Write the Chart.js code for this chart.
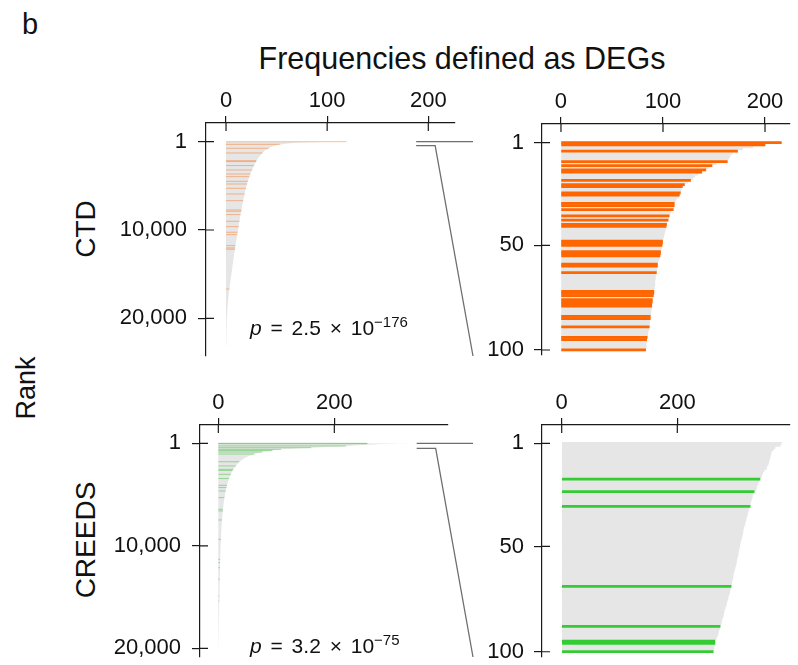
<!DOCTYPE html>
<html lang="en">
<head>
<meta charset="UTF-8">
<title>Frequencies defined as DEGs</title>
<style>
body { margin: 0; background: #fff; font-family: "Liberation Sans", Arial, Helvetica, sans-serif; color: #111; }
#page { position: relative; width: 798px; height: 665px; overflow: hidden; }
canvas { position: absolute; }
.lbl { position: absolute; white-space: nowrap; line-height: 1; }
.rot { transform: translate(-50%, -50%) rotate(-90deg); }
.pval { position: absolute; font-size: 21px; line-height: 1; white-space: nowrap; word-spacing: 3px; }
.pval sup { font-size: 15px; word-spacing: 0; }
</style>
<script src="https://cdn.jsdelivr.net/npm/chart.js"></script>
</head>
<body>
<div id="page">
    <div class="lbl" style="left:22px; top:10px; font-size:29px;">b</div>
    <div class="lbl" style="left:462px; top:43px; font-size:30.5px; transform:translateX(-50%);">Frequencies defined as DEGs</div>
    <div class="lbl rot" style="left:26px; top:388px; font-size:27px;">Rank</div>
    <div class="lbl rot" style="left:86px; top:229px; font-size:28px;">CTD</div>
    <div class="lbl rot" style="left:86px; top:540px; font-size:28px;">CREEDS</div>

    <canvas id="ctdAll" width="395" height="285" style="left:90px; top:80px;"></canvas>
    <canvas id="ctdTop" width="318" height="285" style="left:480px; top:80px;"></canvas>
    <canvas id="creedsAll" width="395" height="280" style="left:90px; top:385px;"></canvas>
    <canvas id="creedsTop" width="318" height="280" style="left:480px; top:385px;"></canvas>

    <div class="pval" style="left:250px; top:314px;"><i>p</i> = 2.5 × 10<sup>−176</sup></div>
    <div class="pval" style="left:250px; top:632px;"><i>p</i> = 3.2 × 10<sup>−75</sup></div>
</div>

<script>
    // ---- CTD: all genes (outline of the grey area) ----
    const ctdCurveRank = [1, 40, 100, 200, 350, 500, 700, 1000, 1400, 2000, 2900, 4000, 5200, 6700, 8600, 10500, 12300, 14200, 16100, 18000, 19900, 21500, 23100];
    const ctdCurveFreq = [119, 95, 75, 62, 52, 47, 43, 38.5, 35, 31, 27, 23, 19.8, 17, 13.8, 11.2, 8.6, 6.3, 4, 2, 0.9, 0.5, 0.3];
    // CTD genes highlighted among all genes
    const ctdHitRank = [1, 300, 750, 1280, 2150, 2250, 2700, 3200, 3660, 3960, 4490, 4790, 5280, 5920, 6680, 7730, 7880, 8260, 9010, 9620, 10260, 10530, 11770, 12030, 12180, 16680];
    const ctdHitFreq = [119, 53, 42, 36, 30, 29.8, 27.5, 25.5, 24, 23, 21.5, 20.8, 19.6, 18.5, 17, 15.4, 15.1, 14.4, 13.2, 12.4, 11.5, 11.1, 9.4, 9, 8.8, 3.4];

    // ---- CTD: top 100 genes ----
    const ctdTopFreq = [
        216, 200, 188, 178, 173, 168, 166, 165, 164, 163,
        152, 148, 145, 142, 138, 134, 131, 129, 127, 124,
        121, 119, 118, 117.5, 117, 116, 115, 113, 112, 111,
        111, 110.5, 110, 108, 107, 106, 105.5, 105, 104, 103.5,
        103, 102.5, 102, 101.5, 101, 100.5, 100, 99.5, 99.5, 99,
        98.5, 98, 97.5, 97.5, 97, 96.5, 96, 95, 94.5, 94.5,
        94, 94, 93.5, 93, 92.5, 92.5, 92, 92, 92, 91.5,
        91.5, 91, 91, 90.5, 90, 89.5, 89.5, 89, 89, 88.5,
        88.5, 88, 88, 87.5, 87.5, 87, 87, 86.5, 86.5, 86,
        85.5, 85, 85, 84.5, 84, 84, 83.5, 83.5, 83.5, 83
    ];
    const ctdTopHits = [1, 2, 5, 10, 12, 14, 15, 19, 21, 22, 25, 26, 30, 31, 33, 36, 38, 40, 41, 48, 49, 50,
        53, 54, 55, 59, 60, 63, 72, 73, 74, 76, 77, 78, 79, 84, 85, 89, 94, 95, 100];

    // ---- CREEDS: all genes ----
    const creedsCurveRank = [1, 60, 150, 260, 430, 590, 750, 920, 1240, 1560, 1890, 2540, 3510, 4490, 5790, 7420, 9040, 10670, 13920, 17170, 19840];
    const creedsCurveFreq = [335, 290, 255, 225, 163, 111, 88, 71, 53, 42, 35, 26, 18, 13.3, 9.3, 6.4, 4.7, 3.5, 2.3, 1, 0.4];
    const creedsHitRank = [1, 40, 260, 430, 590, 700, 850, 1050, 1800, 2210, 2540, 2650, 3030, 3440, 4100, 4320, 4650, 5300, 6440, 6600, 7480, 9370, 11320, 11640, 12140, 13270, 14900, 15390];
    const creedsHitFreq = [257, 257, 220, 160, 108, 93, 76, 62, 36, 30, 25.5, 24.5, 21.5, 18.3, 15, 14, 12.6, 10.5, 8, 7.8, 6.3, 4.4, 3.2, 3.1, 2.9, 2.5, 1.8, 1.6];

    // ---- CREEDS: top 100 genes ----
    const creedsTopFreq = [
        380, 378, 369, 366, 363, 362, 361, 360, 359, 358,
        357, 355, 354, 350, 348, 346, 345, 343, 341, 340,
        338, 337, 336, 333, 331, 330, 329, 328, 327, 326.5,
        326, 324, 323, 322, 321, 320, 319, 318, 317, 316,
        315, 314, 313.5, 313, 312, 311, 310, 309, 308.5, 308,
        307, 306, 305.5, 305, 304, 303, 302.5, 302, 301, 300,
        299, 298, 297, 296.5, 296, 295, 294, 293.5, 293, 292,
        291, 290.5, 289, 288, 287.5, 286, 285, 284.5, 283, 281.5,
        281, 280, 279.5, 278, 277, 276.5, 275, 274, 273, 271.5,
        271, 270, 268.5, 267, 265, 265, 264, 263.5, 263, 262
    ];
    const creedsTopHits = [18, 24, 31, 69, 88, 95, 96, 100];

    const GREY = '#e6e6e6';
    const AXIS = '#1a1a1a';
    const ORANGE = '#ff6600';
    const GREEN = '#33cc33';

    Chart.defaults.font.family = '"Liberation Sans", Arial, Helvetica, sans-serif';
    Chart.defaults.font.size = 22;
    Chart.defaults.color = '#111';

    // R-style ticks that cross the axis line
    const innerTicks = {
        id: 'innerTicks',
        afterDraw(chart) {
            const {ctx, chartArea, scales: {x, y}} = chart;
            ctx.save();
            ctx.strokeStyle = AXIS;
            ctx.lineWidth = 1.2;
            ctx.beginPath();
            x.ticks.forEach(t => {
                const px = x.getPixelForValue(t.value);
                ctx.moveTo(px, chartArea.top);
                ctx.lineTo(px, chartArea.top + 8);
            });
            y.ticks.forEach(t => {
                const py = y.getPixelForValue(t.value);
                ctx.moveTo(chartArea.left, py);
                ctx.lineTo(chartArea.left + 8, py);
            });
            ctx.stroke();
            ctx.restore();
        }
    };

    // lines linking the top ranks to the zoomed panel
    function zoomLink(fromFreq, gap) {
        return {
            id: 'zoomLink',
            afterDraw(chart) {
                const {ctx, chartArea, scales: {x, y}} = chart;
                const x0 = x.getPixelForValue(fromFreq);
                const y0 = y.getPixelForValue(1);
                const x1 = chart.width - 12;
                ctx.save();
                ctx.strokeStyle = '#6e6e6e';
                ctx.lineWidth = 1.3;
                ctx.beginPath();
                ctx.moveTo(x0, y0);
                ctx.lineTo(x1, y0);
                ctx.moveTo(x0, y0 + gap);
                ctx.lineTo(x0 + 19, y0 + gap);
                ctx.lineTo(x1, chartArea.bottom);
                ctx.stroke();
                ctx.restore();
            }
        };
    }

    function axes(cfg) {
        return {
            x: {
                type: 'linear', position: 'top', min: cfg.xMin, max: cfg.xMax,
                afterBuildTicks: s => { s.ticks = cfg.xTicks.map(v => ({value: v})); },
                afterFit: s => { s.height = cfg.xH; s.paddingLeft = 0; s.paddingRight = 0; },
                grid: {drawOnChartArea: false, tickLength: 7, color: AXIS, lineWidth: 1.2},
                border: {color: AXIS, width: 1.2},
                ticks: {padding: 2, autoSkip: false, maxRotation: 0, callback: v => v}
            },
            y: {
                type: 'linear', reverse: true, min: cfg.yMin, max: cfg.yMax, offset: false,
                afterBuildTicks: s => { s.ticks = cfg.yTicks.map(v => ({value: v})); },
                afterFit: s => { s.width = cfg.yW; s.paddingTop = 0; s.paddingBottom = 0; },
                grid: {drawOnChartArea: false, offset: false, tickLength: 8, color: AXIS, lineWidth: 1.2},
                border: {color: AXIS, width: 1.2},
                ticks: {padding: cfg.yPad, autoSkip: false, callback: v => v.toLocaleString('en-US')}
            }
        };
    }

    function allGenesChart(id, cfg) {
        const curve = cfg.rank.map((r, i) => ({x: cfg.freq[i], y: r}));
        const hits = [];
        cfg.hitRank.forEach((r, i) => {
            hits.push({x: 0, y: r}, {x: cfg.hitFreq[i], y: r}, {x: null, y: r});
        });
        return new Chart(document.getElementById(id), {
            type: 'line',
            data: {
                datasets: [
                    {data: hits, borderColor: cfg.hitColor, borderWidth: 1, pointRadius: 0, fill: false, spanGaps: false, order: 0},
                    {data: curve, backgroundColor: GREY, borderColor: 'rgba(0,0,0,0)', borderWidth: 0, pointRadius: 0,
                     fill: 'origin', cubicInterpolationMode: 'monotone', order: 1}
                ]
            },
            options: {
                indexAxis: 'y',
                responsive: false,
                animation: false,
                devicePixelRatio: 1,
                layout: {padding: {left: 0, top: 0, right: cfg.padR, bottom: cfg.padB}},
                plugins: {legend: {display: false}, tooltip: {enabled: false}},
                scales: axes(cfg)
            },
            plugins: [innerTicks, zoomLink(cfg.linkFrom, cfg.linkGap)]
        });
    }

    function topGenesChart(id, cfg) {
        const all = cfg.freq.map((f, i) => ({x: f, y: i + 1}));
        const hits = cfg.hits.map(r => ({x: cfg.freq[r - 1], y: r}));
        return new Chart(document.getElementById(id), {
            type: 'bar',
            data: {
                datasets: [
                    {data: hits, backgroundColor: cfg.hitColor, borderWidth: 0, grouped: false, order: 0,
                     barPercentage: 1, categoryPercentage: 1},
                    {data: all, backgroundColor: GREY, borderWidth: 0, grouped: false, order: 1,
                     barPercentage: 1, categoryPercentage: 1}
                ]
            },
            options: {
                indexAxis: 'y',
                responsive: false,
                animation: false,
                devicePixelRatio: 1,
                layout: {padding: {left: 0, top: 0, right: cfg.padR, bottom: cfg.padB}},
                plugins: {legend: {display: false}, tooltip: {enabled: false}},
                scales: axes(cfg)
            },
            plugins: [innerTicks]
        });
    }

    allGenesChart('ctdAll', {
        rank: ctdCurveRank, freq: ctdCurveFreq, hitRank: ctdHitRank, hitFreq: ctdHitFreq,
        hitColor: 'rgba(255,110,20,0.45)',
        xMin: -19.8, xMax: 226.4, xTicks: [0, 100, 200], xH: 43,
        yMin: -2118, yMax: 24270, yTicks: [1, 10000, 20000], yW: 116, yPad: 11,
        padR: 30, padB: 9, linkFrom: 188, linkGap: 4
    });

    topGenesChart('ctdTop', {
        freq: ctdTopFreq, hits: ctdTopHits, hitColor: ORANGE,
        xMin: -18.6, xMax: 224.5, xTicks: [0, 100, 200], xH: 44,
        yMin: -7.93, yMax: 102.4, yTicks: [1, 50, 100], yW: 62, yPad: 10,
        padR: 8, padB: 10
    });

    allGenesChart('creedsAll', {
        rank: creedsCurveRank, freq: creedsCurveFreq, hitRank: creedsHitRank, hitFreq: creedsHitFreq,
        hitColor: 'rgba(50,190,50,0.45)',
        xMin: -31.6, xMax: 396, xTicks: [0, 200], xH: 40,
        yMin: -1784, yMax: 20850, yTicks: [1, 10000, 20000], yW: 110, yPad: 11,
        padR: 37, padB: 8, linkFrom: 342, linkGap: 5
    });

    topGenesChart('creedsTop', {
        freq: creedsTopFreq, hits: creedsTopHits, hitColor: GREEN,
        xMin: -34.1, xMax: 395, xTicks: [0, 200], xH: 40,
        yMin: -7.69, yMax: 102.5, yTicks: [1, 50, 100], yW: 62, yPad: 10,
        padR: 8, padB: 8
    });
</script>
</body>
</html>
